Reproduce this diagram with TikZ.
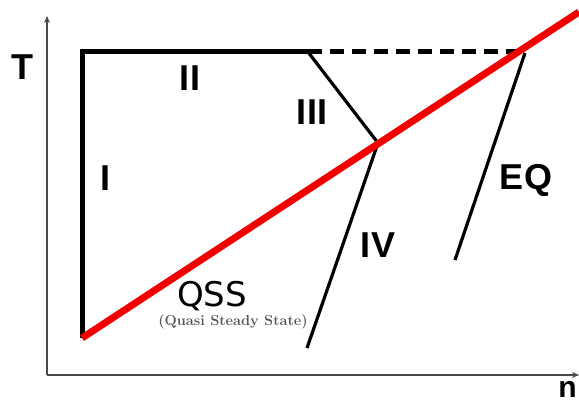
\documentclass[tikz,border=0pt]{standalone}
\usepackage{fontspec}
\newfontfamily\regionfont{Liberation Sans}
\newfontfamily\qssfont{DejaVu Sans}
\usetikzlibrary{arrows.meta}
\definecolor{qssred}{HTML}{F20000}
\definecolor{axisgray}{HTML}{4A4A4A}
\definecolor{notegray}{HTML}{555555}

\begin{document}
\begin{tikzpicture}[x=1pt,y=1pt,
  region/.style={font=\regionfont\bfseries\fontsize{36}{36}\selectfont},
  axis/.style={axisgray, line width=1.5pt, -{Stealth[length=7pt,width=6pt]}},
  frame/.style={black, line width=5pt},
  branch/.style={black, line width=3.2pt}]
  \useasboundingbox (0,0) rectangle (579,405);
  % --- axes ---
  \coordinate (O) at (47,30);
  \coordinate (Ttop) at (47,389);
  \coordinate (nend) at (579,30);
  \draw[axis] (O) -- (Ttop);
  \draw[axis] (O) -- (nend);
  \node[region] (Tlab) at (22,338) {T};
  \node[region, font=\regionfont\bfseries\fontsize{30}{30}\selectfont,
        anchor=base east, inner sep=0pt] (nlab) at (577,8) {n};
  % --- regimes ---
  \coordinate (A) at (82,67);
  \coordinate (B) at (82,353);
  \coordinate (C) at (308,353);
  \coordinate (D) at (526,353);
  \coordinate (E) at (378,262);
  \coordinate (F) at (307,57);
  \coordinate (G) at (525,352);
  \coordinate (H) at (455,145);
  \coordinate (Rend) at (579,393);
  \draw[frame, line join=miter] (A) -- (B) -- (C);
  \draw[frame, dash pattern=on 14pt off 8pt] (C) -- (D);
  \draw[branch] (C) -- (E) -- (F);
  \draw[branch] (G) -- (H);
  \draw[qssred, line width=7pt] (A) -- (Rend);
  % --- labels ---
  \node[region] (I) at (105,227) {I};
  \node[region] (II) at (190,327) {II};
  \node[region] (III) at (312,293) {III};
  \node[region] (IV) at (378,160) {IV};
  \node[region] (EQ) at (526,225) {EQ};
  \node[font=\qssfont\fontsize{34}{34}\selectfont] (QSS) at (212,109) {QSS};
  \node[font=\bfseries\fontsize{14.5}{14.5}\selectfont, notegray] (qssnote) at (233,83) {(Quasi Steady State)};
\end{tikzpicture}
\end{document}
